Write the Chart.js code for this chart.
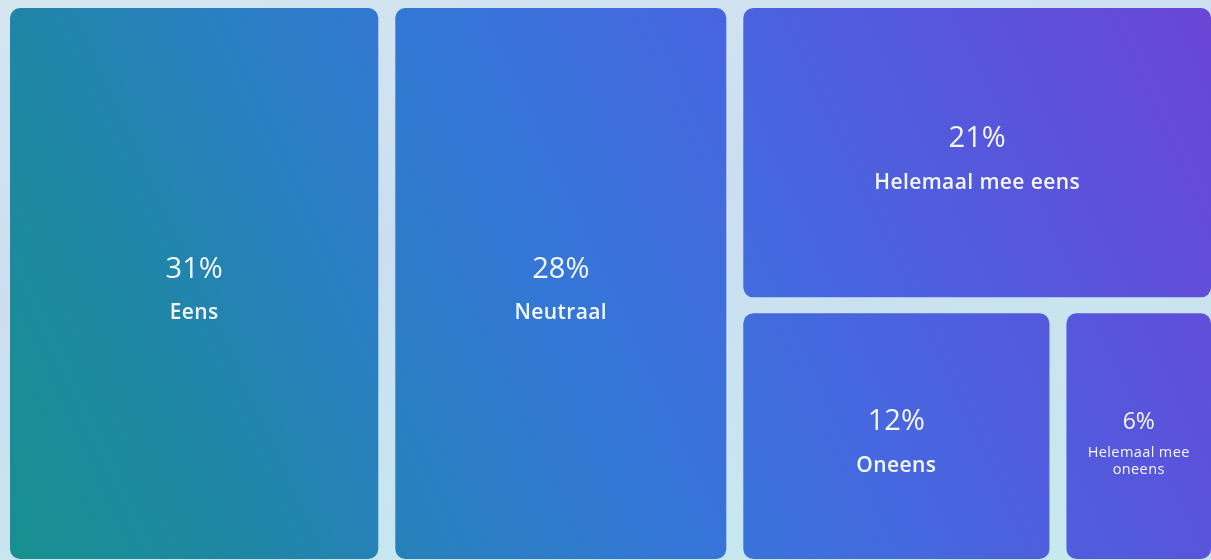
<!DOCTYPE html>
<html>
<head>
<meta charset="utf-8">
<script src="https://cdn.jsdelivr.net/npm/chart.js@4"></script>
<style>
  html, body { margin: 0; padding: 0; width: 1211px; height: 560px; overflow: hidden;
    background: linear-gradient(170deg, #d4e6f0 0%, #cbdef0 40%, #c6eaee 100%); }
  #wrap { position: absolute; left: 0; top: 0; width: 1221px; height: 567px; }
</style>
</head>
<body>
<div id="wrap"><canvas id="c" width="1221" height="567"></canvas></div>
<script>
// ---- data ----
const categories = ['Eens', 'Neutraal', 'Helemaal mee eens', 'Oneens', 'Helemaal mee oneens'];
const values = [31, 28, 21, 12, 6];

// ---- binary treemap layout (d3-style) in data space ----
function binaryLayout(vals, x0, y0, x1, y1) {
  const n = vals.length, sums = [0], rects = new Array(n);
  for (let i = 0; i < n; i++) sums.push(sums[i] + vals[i]);
  function partition(i, j, value, x0, y0, x1, y1) {
    if (i >= j - 1) { rects[i] = { x0, y0, x1, y1 }; return; }
    const off = sums[i], target = value / 2 + off;
    let k = i, hi = j;
    while (k < hi) { const mid = (k + hi) >>> 1; if (sums[mid] < target) k = mid + 1; else hi = mid; }
    if ((target - sums[k - 1]) < (sums[k] - target) && i + 1 < k) --k;
    const vl = sums[k] - off, vr = value - vl;
    if ((x1 - x0) > (y1 - y0)) {
      const xk = (x0 * vr + x1 * vl) / value;
      partition(i, k, vl, x0, y0, xk, y1); partition(k, j, vr, xk, y0, x1, y1);
    } else {
      const yk = (y0 * vr + y1 * vl) / value;
      partition(i, k, vl, x0, y0, x1, yk); partition(k, j, vr, x0, yk, x1, y1);
    }
  }
  partition(0, n, sums[n], x0, y0, x1, y1);
  return rects;
}

class TreemapController extends Chart.DatasetController {
  getMinMax(scale) { return { min: 0, max: 1 }; }
  update(mode) {
    const meta = this._cachedMeta;
    this.updateElements(meta.data, 0, meta.data.length, mode);
  }
  updateElements(rects, start, count, mode) {
    const { xScale, yScale } = this._cachedMeta;
    const aspect = (xScale.right - xScale.left) / (yScale.bottom - yScale.top);
    const vals = this.getDataset().data;
    const lay = binaryLayout(vals, 0, 0, aspect, 1);
    const gx = 8.5, gy = 8;
    for (let i = start; i < start + count; i++) {
      const r = lay[i];
      const left = xScale.getPixelForValue(r.x0 / aspect) + gx;
      const right = xScale.getPixelForValue(r.x1 / aspect) - gx;
      const top = yScale.getPixelForValue(r.y0) + gy;
      const bottom = yScale.getPixelForValue(r.y1) - gy;
      Object.assign(rects[i], {
        x: (left + right) / 2, y: top, base: bottom,
        width: right - left, height: bottom - top, horizontal: false,
        borderSkipped: { top: false, bottom: false, left: false, right: false },
        enableBorderRadius: true, inflateAmount: 0,
        options: this.resolveDataElementOptions(i, mode)
      });
    }
  }
}
TreemapController.id = 'treemap';
TreemapController.defaults = { datasetElementType: false, dataElementType: 'bar' };
TreemapController.overrides = {
  scales: {
    x: { type: 'linear', display: false, min: 0, max: 1, bounds: 'data' },
    y: { type: 'linear', display: false, min: 0, max: 1, bounds: 'data', reverse: true }
  }
};
Chart.register(TreemapController);

function cellGradient(context) {
  const chart = context.chart, a = chart.chartArea;
  if (!a) return '#3a74dc';
  const g = chart.ctx.createLinearGradient(0, 559, 1211, 0);
  g.addColorStop(0.00, '#17918f');
  g.addColorStop(0.18, '#1f86a6');
  g.addColorStop(0.32, '#2a7fc2');
  g.addColorStop(0.47, '#3576d8');
  g.addColorStop(0.64, '#4667e0');
  g.addColorStop(0.80, '#5657dc');
  g.addColorStop(1.00, '#6b45d6');
  return g;
}

const labelPlugin = {
  id: 'cellLabels',
  afterDatasetsDraw(chart) {
    const ctx = chart.ctx;
    const meta = chart.getDatasetMeta(0);
    const ds = chart.data.datasets[0];
    meta.data.forEach((el, i) => {
      const cx = el.x, cy = (el.y + el.base) / 2, w = el.width;
      const pct = ds.data[i] + '%';
      const name = chart.data.labels[i];
      ctx.save();
      ctx.fillStyle = '#f3f7ff';
      ctx.textAlign = 'center';
      ctx.textBaseline = 'middle';
      const big = w > 220;
      ctx.font = (big ? '400 29px' : '400 23px') + ' "Open Sans", sans-serif';
      ctx.fillText(pct, cx, cy - 14);
      ctx.letterSpacing = '0.4px';
      if (big) {
        ctx.font = '600 21px "Open Sans", sans-serif';
        ctx.fillText(name, cx, cy + 30);
      } else {
        ctx.font = '400 14.5px "Open Sans", sans-serif';
        const words = name.split(' '), lines = [];
        let cur = '';
        words.forEach(wd => {
          const t = cur ? cur + ' ' + wd : wd;
          if (ctx.measureText(t).width > w - 30 && cur) { lines.push(cur); cur = wd; } else cur = t;
        });
        lines.push(cur);
        lines.forEach((ln, k) => ctx.fillText(ln, cx, cy + 17 + k * 17));
      }
      ctx.restore();
    });
  }
};

new Chart(document.getElementById('c'), {
  type: 'treemap',
  data: {
    labels: categories,
    datasets: [{ label: 'Aandeel', data: values, backgroundColor: cellGradient, borderWidth: 0, borderRadius: 10 }]
  },
  options: {
    responsive: false,
    animation: false,
    events: [],
    layout: { padding: { left: 1.5, right: 1.5, top: 0, bottom: 0 } },
    plugins: { legend: { display: false }, tooltip: { enabled: false } }
  },
  plugins: [labelPlugin]
});
</script>
</body>
</html>
